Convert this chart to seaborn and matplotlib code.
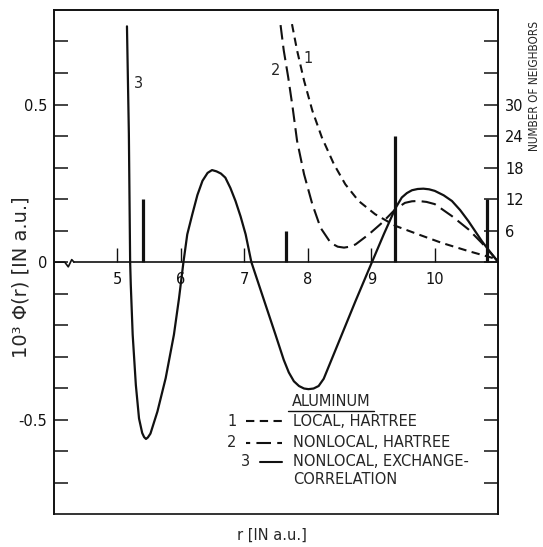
import matplotlib
matplotlib.use("Agg")
import matplotlib.pyplot as plt
import seaborn as sns

# curve 1: local, Hartree (short dashes)
r_local = [7.75, 7.83, 7.94, 8.07, 8.22, 8.41, 8.59, 8.80, 9.06, 9.38, 9.74, 10.11, 10.53, 10.90, 11.0]
phi_local = [0.755, 0.672, 0.576, 0.481, 0.396, 0.311, 0.247, 0.194, 0.152, 0.115, 0.088, 0.061, 0.035, 0.014, 0.0]

# curve 2: nonlocal, Hartree (long dashes)
r_nonlocal = [7.57, 7.62, 7.69, 7.76, 7.83, 7.94, 8.07, 8.20, 8.36, 8.47, 8.57, 8.66, 8.75, 8.96, 9.17, 9.38,
              9.53, 9.64, 9.74, 9.87, 10.0, 10.27, 10.53, 10.74, 10.90, 11.0]
phi_nonlocal = [0.752, 0.672, 0.587, 0.491, 0.385, 0.279, 0.184, 0.109, 0.061, 0.049, 0.046, 0.049, 0.056, 0.088,
                0.125, 0.168, 0.188, 0.193, 0.194, 0.191, 0.184, 0.146, 0.104, 0.061, 0.025, 0.0]

# curve 3: nonlocal, exchange-correlation (solid)
r_xc = [5.15, 5.18, 5.20, 5.21, 5.24, 5.29, 5.34, 5.39, 5.42, 5.45, 5.48, 5.52, 5.63, 5.76, 5.89, 5.97, 6.04,
        6.10, 6.18, 6.26, 6.34, 6.42, 6.49, 6.56, 6.63, 6.70, 6.78, 6.86, 6.94, 7.02, 7.11, 7.28, 7.49, 7.62,
        7.70, 7.78, 7.86, 7.94, 8.01, 8.09, 8.17, 8.25, 8.49, 8.75, 9.01, 9.20, 9.38, 9.48, 9.56, 9.64, 9.73,
        9.82, 9.91, 10.0, 10.14, 10.27, 10.40, 10.53, 10.74, 10.88, 11.0]
phi_xc = [0.748, 0.407, 0.0, -0.071, -0.23, -0.39, -0.496, -0.542, -0.555, -0.561, -0.556, -0.544, -0.474,
          -0.368, -0.23, -0.115, 0.0, 0.088, 0.152, 0.213, 0.258, 0.283, 0.292, 0.288, 0.281, 0.268, 0.235,
          0.194, 0.145, 0.088, 0.0, -0.103, -0.23, -0.31, -0.35, -0.378, -0.393, -0.401, -0.403, -0.401,
          -0.393, -0.37, -0.252, -0.124, 0.0, 0.09, 0.171, 0.205, 0.219, 0.228, 0.232, 0.233, 0.231, 0.226,
          0.212, 0.194, 0.165, 0.13, 0.067, 0.03, 0.0]

# neighbour shells of fcc aluminum
shell_r = [5.41, 7.65, 9.37, 10.82]
shell_n = [12, 6, 24, 12]

# axis ticks
phi_ticks = [-0.7, -0.6, -0.5, -0.4, -0.3, -0.2, -0.1, 0.0, 0.1, 0.2, 0.3, 0.4, 0.5, 0.6, 0.7]
phi_labels = ["", "", "-0.5", "", "", "", "", "0", "", "", "", "", "0.5", "", ""]
r_ticks = [5, 6, 7, 8, 9, 10]
n_ticks = [-42, -36, -30, -24, -18, -12, -6, 0, 6, 12, 18, 24, 30, 36, 42]
n_labels = ["", "", "", "", "", "", "", "", "6", "12", "18", "24", "30", "", ""]

# axis break on the zero line
break_r = [4.0, 4.17, 4.225, 4.28, 4.315]
break_phi = [0.0, 0.0, -0.015, 0.008, 0.0]

sns.set_style("ticks")
plt.rcParams["font.family"] = ["DejaVu Sans"]

fig = plt.figure(figsize=(5.43, 5.47), dpi=100)
ax = fig.add_axes([0.0994, 0.0598, 0.8182, 0.922])

ink = "#111111"
sns.lineplot(x=r_local, y=phi_local, ax=ax, color=ink, lw=1.5, linestyle=(0, (4, 2.6)),
             sort=False, estimator=None)
sns.lineplot(x=r_nonlocal, y=phi_nonlocal, ax=ax, color=ink, lw=1.5, linestyle=(0, (7, 3)),
             sort=False, estimator=None)
sns.lineplot(x=r_xc, y=phi_xc, ax=ax, color=ink, lw=1.6, sort=False, estimator=None)
ax.plot(break_r, break_phi, color=ink, lw=1.2)

ax.set_xlim(4.0, 11.0)
ax.set_ylim(-0.8, 0.8)
ax.set_xticks(r_ticks)
ax.set_yticks(phi_ticks, phi_labels)
ax.tick_params(axis="y", direction="in", length=10, width=1.1, pad=5, labelsize=10.5, colors=ink)
ax.tick_params(axis="x", direction="in", length=10, width=1.0, pad=7, labelsize=10.5, colors=ink)
ax.spines["bottom"].set_position(("data", 0))
ax.spines["bottom"].set_bounds(4.315, 11.0)
for s in ax.spines.values():
    s.set_linewidth(1.2)
    s.set_color(ink)

# curve numbers
ax.text(5.33, 0.567, "3", fontsize=10.5, ha="center", va="center")
ax.text(8.01, 0.646, "1", fontsize=10.5, ha="center", va="center")
ax.text(7.49, 0.608, "2", fontsize=10.5, ha="center", va="center")

ax.set_ylabel("10³ Φ(r) [IN a.u.]", fontsize=14)
ax.yaxis.set_label_coords(-0.052, 0.47)
ax.set_xlabel("r [IN a.u.]", fontsize=10.5)
ax.xaxis.set_label_coords(0.49, -0.027)

# neighbour counts on the right scale
ax2 = ax.twinx()
ax2.set_ylim(-48, 48)
ax2.vlines(shell_r, 0, shell_n, colors=ink, lw=2.3)
ax2.set_yticks(n_ticks, n_labels)
ax2.tick_params(axis="y", direction="in", length=10, width=1.1, pad=5, labelsize=10.5, colors=ink)
for s in ax2.spines.values():
    s.set_linewidth(1.2)
    s.set_color(ink)
ax2.set_ylabel("NUMBER OF NEIGHBORS", fontsize=8.5, fontstretch="condensed", rotation=90)
ax2.yaxis.set_label_coords(1.067, 0.85)

# key
tr = ax.transAxes
ax.text(0.623, 0.223, "ALUMINUM", transform=tr, fontsize=10.5, ha="center", va="center")
ax.plot([0.527, 0.72], [0.205, 0.205], transform=tr, color=ink, lw=1.0)
key_y = [0.184, 0.142, 0.104]
key_text = ["LOCAL, HARTREE", "NONLOCAL, HARTREE", "NONLOCAL, EXCHANGE-"]
key_style = [(0, (4, 2.6)), (5, (7, 3)), "-"]
key_start = [0.433, 0.433, 0.463]
for i in range(3):
    ax.text(key_start[i] - 0.022, key_y[i], str(i + 1), transform=tr, fontsize=10.5, ha="right", va="center")
    ax.plot([key_start[i], 0.513], [key_y[i], key_y[i]], transform=tr, color=ink, lw=1.5, linestyle=key_style[i])
    ax.text(0.538, key_y[i], key_text[i], transform=tr, fontsize=10.5, ha="left", va="center")
ax.text(0.538, 0.068, "CORRELATION", transform=tr, fontsize=10.5, ha="left", va="center")

fig.savefig("out.png", dpi=100)
